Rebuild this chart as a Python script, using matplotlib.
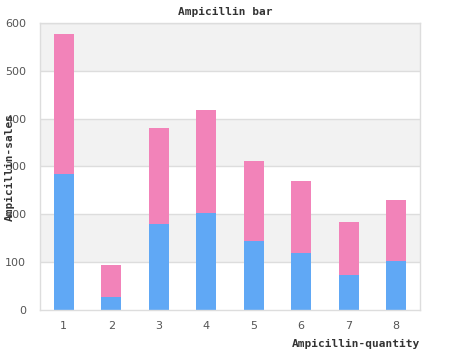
import matplotlib
matplotlib.use('Agg')
import matplotlib.pyplot as plt
import numpy as np

categories = ['1', '2', '3', '4', '5', '6', '7', '8']
blue_vals = [285, 27, 180, 203, 144, 119, 73, 102]
pink_vals = [292, 67, 201, 215, 168, 151, 111, 128]
yticks = [0, 100, 200, 300, 400, 500, 600]

BLUE = '#60a8f5'
PINK = '#f283b9'
GRID = '#dddddd'
TXT = '#555555'
mono = 'DejaVu Sans Mono'

fig = plt.figure(figsize=(4.5, 3.5), dpi=100)
ax = fig.add_axes([40 / 450, 40 / 350, 380 / 450, 287 / 350])

# alternating bands
for i, y0 in enumerate(yticks[:-1]):
    if i % 2 == 1:
        ax.axhspan(y0, yticks[i + 1], color='#f2f2f2', zorder=0, lw=0)
for y in yticks[1:]:
    ax.axhline(y, color=GRID, lw=1, zorder=1)

x = np.arange(len(categories))
ax.bar(x, blue_vals, width=0.42, color=BLUE, zorder=2)
ax.bar(x, pink_vals, width=0.42, bottom=blue_vals, color=PINK, zorder=2)

ax.set_xlim(-0.5, len(categories) - 0.5)
ax.set_ylim(0, 600)
ax.set_xticks(x)
ax.set_xticklabels(categories)
ax.set_yticks(yticks)
ax.tick_params(length=0, labelsize=8, colors=TXT, pad=8)
ax.tick_params(axis='y', pad=10)
for s in ax.spines.values():
    s.set_color(GRID)
    s.set_linewidth(1)

fig.text(0.5, 12 / 350 * -1 + 1, 'Ampicillin bar', ha='center', va='center',
         family=mono, weight='bold', fontsize=8, color='#333333')
fig.text(420 / 450, 1 - 344 / 350, 'Ampicillin-quantity', ha='right', va='center',
         family=mono, weight='bold', fontsize=8, color='#333333')
fig.text(10 / 450, 1 - 167 / 350, 'Ampicillin-sales', ha='center', va='center',
         rotation=90, family=mono, weight='bold', fontsize=8, color='#333333')

fig.savefig('out.png', dpi=100)
